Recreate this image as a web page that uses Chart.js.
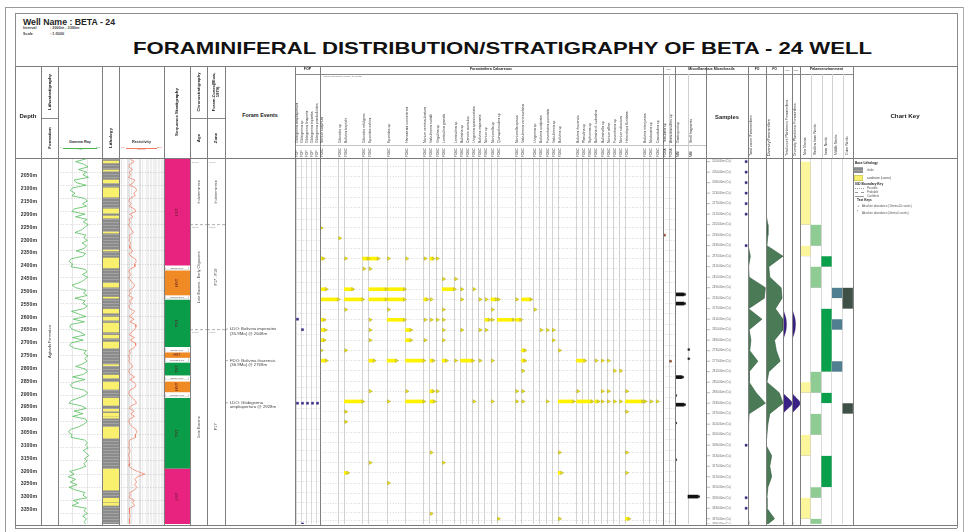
<!DOCTYPE html>
<html><head><meta charset="utf-8"><title>Foraminiferal distribution BETA-24</title>
<script src="https://cdn.jsdelivr.net/npm/chart.js@4.4.1/dist/chart.umd.min.js"></script>
<style>
html,body{margin:0;padding:0;background:#fff;}
#root{position:relative;width:968px;height:532px;overflow:hidden;background:#fff;font-family:"Liberation Sans",Arial,Helvetica,sans-serif;color:#222;}
#root canvas{position:absolute;}
</style></head><body><div id="root"></div>
<script>
// ================= DATA =================
const DEPTH_MIN = 2000;
const DEPTH_MAX = 3390;
const depthTicks = [2050,2100,2150,2200,2250,2300,2350,2400,2450,2500,2550,2600,2650,2700,2750,2800,2850,2900,2950,3000,3050,3100,3150,3200,3250,3300,3350];
const sampleDepths = [2010,2050,2090,2130,2170,2210,2250,2290,2330,2370,2410,2450,2490,2530,2570,2610,2650,2690,2730,2770,2810,2850,2890,2930,2970,3010,3050,3090,3130,3170,3210,3250,3290,3330,3370,3390];
const barrenSamples = [2010,2050,2090,2130,2170,2210,2330,3090,3290,3330];

// wireline logs sampled every 10 m from 2000 m
const logTop = 2000, logStep = 10;
const gammaRay = [
 95,60,88,102,70,98,85,104,55,62,
 96,50,42,58,47,90,100,84,97,55,
 48,92,60,99,86,103,91,80,58,95,
 88,100,82,97,90,62,94,85,45,38,
 50,44,92,99,83,101,90,76,48,60,
 96,87,99,58,93,84,100,88,46,70,
 95,52,90,44,40,52,78,92,50,86,
 45,40,55,97,88,102,91,99,85,60,
 94,100,87,50,92,55,42,48,89,101,
 93,70,45,38,80,96,55,85,50,94,
 99,88,70,42,36,48,44,90,100,94,
 103,86,97,105,91,99,88,95,72,40,
 55,35,60,42,65,38,58,92,85,98,
 52,70,48,96,89,100,84,97,90,93];
const resistivity = [
 2.0,4.5,1.8,1.5,3.2,1.6,2.2,1.4,5.0,3.8,
 1.7,6.0,7.5,4.2,5.5,1.9,1.5,2.4,1.6,4.8,
 6.2,1.8,3.5,1.5,2.1,1.4,1.9,2.6,3.9,1.6,
 2.0,1.5,2.3,1.7,1.9,3.6,1.6,2.2,5.5,7.0,
 4.6,5.2,1.8,1.5,2.4,1.4,1.9,2.8,5.1,3.8,
 1.6,2.1,1.5,3.7,1.7,2.2,1.5,1.9,4.9,3.0,
 1.6,4.4,1.8,5.8,6.4,4.7,2.5,1.7,4.6,2.0,
 5.3,6.1,4.0,1.6,2.0,1.4,1.8,1.5,2.1,3.5,
 1.7,1.5,2.0,4.9,1.8,4.3,6.5,5.2,1.9,1.5,
 1.8,3.0,5.6,7.2,2.4,1.6,4.5,2.2,4.9,1.7,
 1.5,1.9,3.1,6.4,7.8,5.5,5.9,1.8,1.5,1.7,
 1.4,2.0,1.6,1.4,1.8,1.5,1.9,1.6,2.8,9.0,
 40,8.5,5.2,7.4,4.8,7.9,5.0,1.8,2.0,1.6,
 4.6,3.2,5.0,1.7,1.9,1.6,2.0,1.7,1.8,1.7];

const sandIntervals = [[2008,2015],[2042,2046],[2080,2091],[2110,2145],[2190,2206],[2217,2225],[2278,2282],[2347,2350],[2377,2415],[2473,2488],[2526,2530],[2572,2587],[2602,2614],[2625,2659],[2671,2682],[2697,2720],[2783,2787],[2823,2834],[2850,2877],[2911,2938],[2953,2960],[2968,2980],[2983,2987],[3021,3063],[3181,3261],[3292,3307],[3311,3319]];
const formations = [['Agbada Formation',2000,3390]];
const seqBlocks = [[2000,2404,'LST'],[2426,2518,'HST'],[2537,2715,'TST'],[2738,2756,'HST'],[2777,2823,'TST'],[2849,2887,'HST'],[2911,3178,'TST'],[3181,3390,'LST']];
const seqSurfaces = [[2410,2423,'SB(33.9Ma)'],[2521,2534,'MFS(34.3Ma)'],[2720,2736,'SB(35.4Ma)'],[2758,2774,'MFS(35.8Ma)'],[2829,2842,'SB(36.4Ma)'],[2893,2907,'MFS(36.9Ma)']];
const ageUnits = [['Indeterminate',2000,2250],['Late Eocene - Early Oligocene',2250,2650],['Late Eocene',2650,3390]];
const zoneUnits = [['Indeterminate',2000,2250],['P17 - P19',2250,2650],['P17',2650,3390]];
const stratBoundaries = [2250,2650];
const foramEvents = [['LDO: Bolivina imperatrix','(35.9Ma) @ 2648m',2648],['FDO: Bolivina ihuzensis','(36.9Ma) @ 2768m',2768],['LDO: Globigerina','ampliapertura @ 2928m',2928]];

const fopSpecies = ['Globigerina ampliapertura','Globigerina sp','Globigerina linaperta','Globigerina tripartita','Globigerina praebulloides'];
const fopRecords = [[0,2610,1],[1,2650,1],[0,2930,1],[1,2930,1],[2,2930,1],[3,2930,1],[4,2930,1],[1,3390,1]];
const calcSpecies = ['Nonion scaphum','','','Cibicides sp','Bolivina beyrichi','','','Cibicides refulgens','Eponides eshira','','','Eponides sp','','','Hanzawaia concentrica','','','Nonion centrosulcatum','Valvulineria nuttalli','Virgulina sp','Lenticulina grandis','','Lenticulina sp','Bulimina sp','Cancris auriculus','Uvigerina sparsicostata','Bolivina imperatrix','Nonion sp','Nonionella sp','Quinqueloculina sp','','','Nonionella spissa','Valvulineria venezuelana','','Uvigerina sp','Bolivina scalprata','Fursenkoina punctata','Valvulineria sp','Bolivina sp','','','Bolivina ihuzensis','Planulina sp','Siphonina sp','Bulimina cf. subcalva','Buliminella sp','Nonion affine','Fursenkoina sp','Nonion robustum','Heterolepa floridana','','','Bolivina interjuncta','Nodosaria sp','Cassidulina sp'];
// [species column, sample depth, count]
const calcRecords = [
 [0,2250,1],[3,2290,1],
 [0,2370,2],[4,2370,1],[7,2370,4],[8,2370,8],[11,2370,1],[14,2370,1],[17,2370,1],[18,2370,2],[19,2370,1],
 [7,2410,1],[8,2410,1],
 [20,2450,1],[22,2450,1],
 [0,2490,5],[4,2490,7],[8,2490,16],[11,2490,16],[20,2490,11],[23,2490,1],[25,2490,1],
 [0,2530,17],[4,2530,17],[8,2530,16],[11,2530,16],[17,2530,2],[18,2530,1],[23,2530,1],[26,2530,1],[27,2530,1],[28,2530,4],[29,2530,1],[32,2530,1],[33,2530,8],
 [4,2570,1],[11,2570,1],[20,2570,1],[28,2570,1],[35,2570,1],
 [0,2610,3],[8,2610,1],[11,2610,16],[17,2610,1],[18,2610,1],[19,2610,1],[20,2610,1],[27,2610,3],[28,2610,1],[29,2610,15],[32,2610,4],
 [0,2650,4],[8,2650,1],[14,2650,4],[20,2650,1],[23,2650,1],[26,2650,1],[27,2650,1],[36,2650,1],[37,2650,1],[38,2650,1],
 [0,2690,3],[8,2690,1],[14,2690,4],[17,2690,1],[20,2690,1],[38,2690,1],
 [0,2730,1],[4,2730,1],[33,2730,2],[39,2730,1],
 [0,2770,5],[8,2770,4],[11,2770,8],[14,2770,17],[18,2770,2],[20,2770,3],[22,2770,1],[23,2770,11],[26,2770,1],[28,2770,1],[33,2770,2],[42,2770,7],[45,2770,1],[46,2770,1],[47,2770,1],
 [33,2810,1],[48,2810,1],[49,2810,1],
 [8,2890,1],[14,2890,1],[18,2890,2],[19,2890,1],[32,2890,1],[33,2890,1],[42,2890,1],[46,2890,1],[47,2890,1],[50,2890,1],
 [4,2930,17],[11,2930,1],[14,2930,17],[18,2930,3],[25,2930,1],[28,2930,1],[32,2930,1],[33,2930,1],[37,2930,1],[39,2930,14],[42,2930,14],[45,2930,2],[46,2930,1],[47,2930,1],[48,2930,1],[49,2930,1],[50,2930,16],[53,2930,1],[54,2930,1],[55,2930,1],
 [4,2970,1],[50,2970,1],[4,3010,1],
 [18,3130,1],[39,3130,1],[50,3130,1],
 [8,3170,1],[20,3170,1],
 [4,3210,2],[39,3210,2],[50,3210,1],
 [11,3250,1],[18,3370,1],
 [29,3390,1],[39,3390,1],[50,3390,2]];
const foaSpecies = ['Textularia sp','Ammobaculites sp'];
const foaRecords = [[0,2290,1],[1,2770,1]];
const miscSpecies = ['Gastropod sp','Shell fragments'];
const miscRecords = [[0,2490,9],[0,2530,9],[1,2730,1],[1,2770,1],[0,2850,7],[0,2930,1],[0,2970,9],[0,3050,1],[0,3210,1],[1,3370,10]];

// per sample (sampleDepths order)
const totalCount =          [0,0,0,0,0,0,1,1,0,4,1,2,30,28,1,24,2,5,3,17,2,2,14,30,2,1,1,0,1,1,1,1,0,0,1,2];
const diversity =           [0,0,0,0,0,0,2,2,1,18,3,4,16,17,10,18,18,9,11,15,3,1,14,18,4,2,1,0,6,4,6,2,1,1,9,2];
const planktonicCount =     [0,0,0,0,0,0,0,0,0,0,0,0,0,0,0,3,3,0,0,0,0,0,0,9,0,0,0,0,0,0,0,0,0,0,0,1];
const planktonicDiversity = [0,0,0,0,0,0,0,0,0,0,0,0,0,0,0,3,3,0,0,0,0,0,0,8,0,0,0,0,0,0,0,0,0,0,0,1];

const paleoEnvs = ['Non Marine','Shallow Inner Neritic','Inner Neritic','Middle Neritic','Outer Neritic'];
const paleoIntervals = [[0,2010,2250],[1,2250,2330],[0,2330,2370],[2,2370,2410],[1,2410,2490],[3,2490,2530],[4,2490,2570],[2,2570,2810],[3,2610,2650],[3,2770,2810],[1,2810,2890],[0,2850,2890],[2,2890,2930],[4,2930,2970],[1,2970,3050],[0,3050,3130],[2,3130,3250],[1,3250,3290],[0,3290,3370],[1,3370,3390]];

// ================= STYLE / LAYOUT =================
const paleoColors = ['#fbf59c','#8fcc93','#0aa04b','#4f7f90','#3f5046'];
const seqColors = {LST:'#e8237f', HST:'#f08a24', TST:'#0a9c48'};
const root = document.getElementById('root');
const TOP = 159, BOT = 524, H = BOT - TOP;
const SLOT = 6.11;
const FONT = '"Liberation Sans", Arial, sans-serif';
Chart.defaults.font.family = FONT;
Chart.defaults.animation = false;

function canvasAt(left, width){
  const c = document.createElement('canvas');
  c.width = width; c.height = H;
  c.style.left = left+'px'; c.style.top = TOP+'px';
  c.style.width = width+'px'; c.style.height = H+'px';
  root.appendChild(c); return c;
}
function base(extra){
  return Object.assign({responsive:false, maintainAspectRatio:false, animation:false, events:[],
    layout:{padding:0, autoPadding:false},
    plugins:{legend:{display:false}, tooltip:{enabled:false}}}, extra||{});
}
function yScale(gridVals, color, dash){
  const s = {type:'linear', min:DEPTH_MIN, max:DEPTH_MAX, reverse:true, display:true,
    ticks:{display:false}, grid:{display:false, drawTicks:false}, border:{display:false}};
  if (gridVals){
    s.afterBuildTicks = sc => { sc.ticks = gridVals.map(v => ({value:v})); };
    s.grid = {display:true, drawTicks:false, color:color||'#bdbdbd', lineWidth:0.7};
    s.border = {display:false, dash:dash||[1,1.6]};
  }
  return s;
}
function xScale(min, max, gridVals, color, lw, type){
  const s = {type:type||'linear', min, max, display:true,
    ticks:{display:false}, grid:{display:false, drawTicks:false}, border:{display:false}};
  if (gridVals){
    s.afterBuildTicks = sc => { sc.ticks = gridVals.map(v => ({value:v})); };
    s.grid = {display:true, drawTicks:false, color:color||'#d6d6d6', lineWidth:lw||1};
  }
  return s;
}
// text drawn at depth positions through the chart's scales
function textLayer(items){
  return {id:'textLayer', afterDatasetsDraw(chart){
    const ctx = chart.ctx, ys = chart.scales.y, xs = chart.scales.x, ca = chart.chartArea;
    items.forEach(it => {
      const py = ys.getPixelForValue(it.depth);
      const px = it.xv != null ? xs.getPixelForValue(it.xv) : ca.left + (ca.right-ca.left)*(it.xf != null ? it.xf : 0.5);
      ctx.save();
      ctx.font = (it.weight||'normal')+' '+(it.size||4)+'px '+FONT;
      ctx.fillStyle = it.color||'#333';
      ctx.textAlign = it.align||'center'; ctx.textBaseline = 'middle';
      ctx.translate(px+(it.dx||0), py+(it.dy||0));
      if (it.rot) ctx.rotate(it.rot);
      ctx.fillText(it.text, 0, 0);
      ctx.restore();
    });
  }};
}
function bgLayer(fn){ return {id:'bgLayer', beforeDraw(chart){ fn(chart); }}; }
const mid = (a,b) => (a+b)/2;
const sampleGrid = sampleDepths.slice(0,-1).map((d,i) => mid(d, sampleDepths[i+1]));

// ================= CHARTS =================
// Depth axis
new Chart(canvasAt(15,26), {type:'scatter', data:{datasets:[]}, options:base({scales:{
  x:{display:false, min:0, max:1},
  y:{type:'linear', min:DEPTH_MIN, max:DEPTH_MAX, reverse:true, position:'left',
     afterBuildTicks:s => { s.ticks = depthTicks.map(v => ({value:v})); },
     afterFit:s => { s.width = 23; },
     ticks:{display:true, autoSkip:false, padding:1, color:'#333', font:{size:5.2, weight:'bold'}, callback:v => v+'m'},
     grid:{display:false, drawTicks:false}, border:{display:false}}}})});

// Formation
new Chart(canvasAt(41,17), {type:'scatter', data:{datasets:[]},
  options:base({scales:{x:xScale(0,1), y:yScale()}}),
  plugins:[textLayer(formations.map(f => ({text:f[0], depth:mid(f[1],f[2]), rot:-Math.PI/2, size:4, color:'#333'})))]});

// Gamma ray
new Chart(canvasAt(58,44), {type:'line', data:{datasets:[{
    data:gammaRay.map((v,i) => ({x:v, y:logTop+i*logStep})),
    borderColor:'#3fb548', borderWidth:0.7, pointRadius:0, fill:false, tension:0}]},
  options:base({indexAxis:'y', scales:{x:xScale(0,150,[50,100],'#e0e0e0',0.8), y:yScale(depthTicks)}})});

// Lithology
const pc = document.createElement('canvas'); pc.width = 4; pc.height = 3;
const pg = pc.getContext('2d'); pg.fillStyle = '#8b8b8b'; pg.fillRect(0,0,4,3); pg.fillStyle = '#a3a3a3'; pg.fillRect(0,0,4,1);
const shalePattern = pg.createPattern(pc, 'repeat');
new Chart(canvasAt(102,17), {type:'bar', data:{labels:['L'], datasets:[
    {data:[{x:'L', y:[DEPTH_MIN, DEPTH_MAX]}], backgroundColor:shalePattern, order:2, barPercentage:1, categoryPercentage:1, grouped:false},
    {data:sandIntervals.map(s => ({x:'L', y:s})), backgroundColor:'#f9f06e', order:1, barPercentage:1, categoryPercentage:1, grouped:false}]},
  options:base({scales:{x:{type:'category', display:false}, y:yScale()}})});

// Resistivity
new Chart(canvasAt(119,45), {type:'line', data:{datasets:[{
    data:resistivity.map((v,i) => ({x:v, y:logTop+i*logStep})),
    borderColor:'#ef7a60', borderWidth:0.7, pointRadius:0, fill:false, tension:0}]},
  options:base({indexAxis:'y', scales:{
    x:xScale(0.2,2000,[0.3,0.4,0.5,0.6,0.7,0.8,0.9,1,2,3,4,5,6,7,8,9,10,20,30,40,50,100,200,500,1000],'#ffffff',0.8,'logarithmic'),
    y:yScale(depthTicks)}}),
  plugins:[bgLayer(ch => {
    const c = ch.ctx, x = ch.scales.x, a = ch.chartArea;
    c.save();
    c.fillStyle = '#e4e4e4'; c.fillRect(x.getPixelForValue(0.2), a.top, x.getPixelForValue(20)-x.getPixelForValue(0.2), a.bottom-a.top);
    c.fillStyle = '#efefef'; c.fillRect(x.getPixelForValue(20), a.top, x.getPixelForValue(2000)-x.getPixelForValue(20), a.bottom-a.top);
    c.restore();
  })]});

// Sequence stratigraphy
new Chart(canvasAt(164,26), {type:'bar', data:{labels:['S'], datasets:[
    {data:seqSurfaces.map(s => ({x:'S', y:[s[0],s[1]]})), backgroundColor:'#ffffff', borderColor:'#9a9a9a', borderWidth:0.6, order:1, barPercentage:0.9, categoryPercentage:1, grouped:false},
    {data:seqBlocks.map(b => ({x:'S', y:[b[0],b[1]]})), backgroundColor:seqBlocks.map(b => seqColors[b[2]]), order:2, barPercentage:1, categoryPercentage:1, grouped:false}]},
  options:base({scales:{x:{type:'category', display:false}, y:yScale()}}),
  plugins:[textLayer([
    ...seqBlocks.map(b => ({text:b[2], depth:mid(b[0],b[1]), rot:(b[1]-b[0] > 30 ? -Math.PI/2 : 0), size:(b[1]-b[0] > 30 ? 4.2 : 3.4), color:'#5a1a2a'})),
    ...seqSurfaces.map(s => ({text:s[2], depth:mid(s[0],s[1]), size:2.4, color:'#555'}))])]});

// Age / Zone / Events
function boundaryLines(depths, x1){
  return depths.map(d => ({type:'line', data:[{x:0,y:d},{x:x1,y:d}], borderColor:'#9a9a9a', borderWidth:0.8, borderDash:[3,2], pointRadius:0, fill:false}));
}
new Chart(canvasAt(190,17), {type:'scatter', data:{datasets:boundaryLines(stratBoundaries,1)},
  options:base({scales:{x:xScale(0,1), y:yScale()}}),
  plugins:[textLayer([
    ...ageUnits.map(u => ({text:u[0], depth:mid(u[1],u[2]), rot:-Math.PI/2, size:3.8, color:'#444'})),
    ...ageUnits.map(u => ({text:u[1]+'m', depth:u[1], xf:0.12, align:'left', dy:3, size:2.2, color:'#999'}))])]});
new Chart(canvasAt(207,18), {type:'scatter', data:{datasets:boundaryLines(stratBoundaries,1)},
  options:base({scales:{x:xScale(0,1), y:yScale()}}),
  plugins:[textLayer([
    ...zoneUnits.map(u => ({text:u[0], depth:mid(u[1],u[2]), rot:-Math.PI/2, size:3.8, color:'#444'})),
    ...zoneUnits.map(u => ({text:u[1]+'m', depth:u[1], xf:0.12, align:'left', dy:3, size:2.2, color:'#999'}))])]});
new Chart(canvasAt(225,70), {type:'scatter', data:{datasets:boundaryLines(foramEvents.map(e => e[2]),0.08)},
  options:base({scales:{x:xScale(0,1), y:yScale()}}),
  plugins:[textLayer([
    ...foramEvents.map(e => ({text:e[0], depth:e[2], xf:0.07, align:'left', dy:0, size:4.3, color:'#444'})),
    ...foramEvents.map(e => ({text:e[1], depth:e[2], xf:0.07, align:'left', dy:4.2, size:4.3, color:'#444'}))])]});

// Planktonic (FOP)
const fopChart = new Chart(canvasAt(295,25), {type:'scatter', data:{datasets:[{
    data:fopRecords.map(r => ({x:r[0]+0.3, y:r[1]})),
    pointStyle:'rect', pointRadius:1.5, pointBackgroundColor:'#3b2a8f', pointBorderColor:'#2a1c6e', pointBorderWidth:0.4, clip:false}]},
  options:base({scales:{x:xScale(-0.2,4.8,fopSpecies.map((s,i) => i),'#dadada',1), y:yScale(sampleGrid,'#c8c8c8')}})});

// Calcareous benthics
const calcSlots = calcSpecies.map((s,i) => s ? i : null).filter(v => v !== null);
const calcChart = new Chart(canvasAt(320,343), {type:'scatter', data:{datasets:[
    {type:'bar', indexAxis:'y', order:2, grouped:false, barThickness:3, clip:false,
     data:calcRecords.filter(r => r[2] > 1).map(r => ({y:r[1], x:[r[0], r[0]+r[2]/SLOT]})),
     backgroundColor:'#fff200', borderWidth:0},
    {type:'scatter', order:1, clip:false,
     data:calcRecords.map(r => ({x:r[0]+(r[2] > 1 ? r[2]/SLOT : 0)+0.22, y:r[1]})),
     pointStyle:'triangle', pointRotation:90, pointRadius:2, pointBackgroundColor:'#f3e600', pointBorderColor:'#a8a020', pointBorderWidth:0.5}]},
  options:base({scales:{x:xScale(0,343/SLOT,calcSlots,'#d2d2d2',1), y:yScale(sampleGrid,'#c8c8c8')}})});

// Agglutinated (FOA)
const foaChart = new Chart(canvasAt(663,12), {type:'scatter', data:{datasets:[{
    data:foaRecords.map(r => ({x:r[0]+0.25, y:r[1]})),
    pointStyle:'rect', pointRadius:1.4, pointBackgroundColor:'#a0522d', pointBorderColor:'#6b3318', pointBorderWidth:0.4, clip:false}]},
  options:base({scales:{x:xScale(0,2,[1],'#d2d2d2',1), y:yScale(sampleGrid,'#c8c8c8')}})});

// Miscellaneous microfossils
const MISC_PX = 13;
const miscChart = new Chart(canvasAt(675,31), {type:'scatter', data:{datasets:[
    {type:'bar', indexAxis:'y', order:2, grouped:false, barThickness:3, clip:false,
     data:miscRecords.filter(r => r[2] > 1).map(r => ({y:r[1], x:[r[0], r[0]+r[2]/MISC_PX]})),
     backgroundColor:'#111', borderWidth:0},
    {type:'scatter', order:1, clip:false,
     data:miscRecords.map(r => ({x:r[0]+(r[2] > 1 ? r[2]/MISC_PX : 0)+0.06, y:r[1]})),
     pointStyle:'rect', pointRadius:1.4, pointBackgroundColor:'#111', pointBorderColor:'#444', pointBorderWidth:0.3}]},
  options:base({scales:{x:xScale(0,31/MISC_PX,[1],'#d2d2d2',1), y:yScale()}})});

// Samples
new Chart(canvasAt(706,42), {type:'scatter', data:{datasets:[
    {data:sampleDepths.map(d => ({x:0.05, y:d})), pointStyle:'line', pointRadius:2, pointBorderColor:'#888', pointBorderWidth:0.6, clip:false},
    {data:barrenSamples.map(d => ({x:0.955, y:d})), pointStyle:'rect', pointRadius:1.5, pointBackgroundColor:'#3b2a8f', pointBorderColor:'#2a1c6e', pointBorderWidth:0.4, clip:false}]},
  options:base({scales:{x:xScale(0,1), y:yScale()}}),
  plugins:[textLayer(sampleDepths.map(d => ({text:d.toFixed(2)+'m (Cs)', depth:d, xf:0.15, align:'left', size:2.8, color:'#666'})))]});

// Area curves
function areaChart(left, width, values, max, fillColor, lineColor, tension){
  return new Chart(canvasAt(left,width), {type:'line', data:{datasets:[{
      data:sampleDepths.map((d,i) => ({x:values[i], y:d})),
      fill:'origin', backgroundColor:fillColor, borderColor:lineColor, borderWidth:0.6, pointRadius:0, tension:tension}]},
    options:base({indexAxis:'y', scales:{x:xScale(0,max), y:yScale()}})});
}
areaChart(748,18,totalCount,31,'#4a7a56','#2f5a3b',0);
areaChart(766,17,diversity,18,'#4a7a56','#2f5a3b',0);
areaChart(783,9,planktonicCount,9,'#3a1f86','#2a156a',0.3);
areaChart(792,8,planktonicDiversity,8,'#3a1f86','#2a156a',0.3);

// Palaeoenvironment
new Chart(canvasAt(800,53), {type:'bar', data:{labels:paleoEnvs, datasets:[{
    data:paleoIntervals.map(p => ({x:paleoEnvs[p[0]], y:[p[1],p[2]]})),
    backgroundColor:paleoIntervals.map(p => paleoColors[p[0]]), borderColor:'#c9c9c9', borderWidth:0.5,
    barPercentage:1, categoryPercentage:1, grouped:false}]},
  options:base({scales:{x:{type:'category', display:true, offset:true, ticks:{display:false},
      grid:{display:true, offset:true, drawTicks:false, color:'#d0d0d0', lineWidth:0.8}, border:{display:false}},
    y:yScale()}})});

// ================= HTML FRAME & HEADER =================
function el(text, css){ const d = document.createElement('div'); d.textContent = text; d.style.cssText = 'position:absolute;white-space:nowrap;line-height:1;'+css; root.appendChild(d); return d; }
function txt(s, x, y, size, o){ o = o||{}; const tx = o.align === 'left' ? '0' : o.align === 'right' ? '-100%' : '-50%';
  return el(s, `left:${x}px;top:${y}px;font-size:${size}px;font-weight:${o.bold?'bold':'normal'};color:${o.color||'#222'};transform:translate(${tx},-50%);`); }
function rtxt(s, x, yb, size, o){ o = o||{};
  return el(s, `left:${x}px;top:${yb}px;font-size:${size}px;font-weight:${o.bold?'bold':'normal'};color:${o.color||'#333'};transform-origin:0 0;transform:rotate(-90deg) translateY(-50%);`); }
function rctxt(s, x, yc, size, o){ o = o||{};
  const d = el('', `left:${x}px;top:${yc}px;font-size:${size}px;font-weight:${o.bold?'bold':'normal'};color:${o.color||'#222'};text-align:center;transform:translate(-50%,-50%) rotate(-90deg);`);
  s.split('\n').forEach((line,i) => { if (i) d.appendChild(document.createElement('br')); d.appendChild(document.createTextNode(line)); });
  return d; }
function vline(x, y1, y2, color, w){ w = w||1; el('', `left:${x-w/2}px;top:${y1}px;width:${w}px;height:${y2-y1}px;background:${color||'#808080'};`); }
function hline(y, x1, x2, color, w){ w = w||1; el('', `left:${x1}px;top:${y-w/2}px;width:${x2-x1}px;height:${w}px;background:${color||'#808080'};`); }
function hdash(y, x1, x2, color, dash){ el('', `left:${x1}px;top:${y}px;width:${x2-x1}px;height:0;border-top:0.8px ${dash} ${color};`); }

// frames
hline(7,5,963,'#9a9a9a'); vline(5,7,532,'#9a9a9a'); vline(963,7,532,'#b0b0b0');
hline(13,15,957,'#8c8c8c'); vline(15,13,528,'#8c8c8c'); vline(957,13,528,'#8c8c8c'); hline(528,15,957,'#8c8c8c');
// header texts
const wn = txt('Well Name : BETA - 24', 23, 22, 8.6, {bold:true, align:'left', color:'#222'});
txt('Interval', 23, 29, 3.8, {bold:true, align:'left', color:'#444'}); txt(': 2000m - 3390m', 50, 29, 3.8, {bold:true, align:'left', color:'#444'});
txt('Scale', 23, 35, 3.8, {bold:true, align:'left', color:'#444'}); txt(': 1:5000', 50, 35, 3.8, {bold:true, align:'left', color:'#444'});
const title = txt('FORAMINIFERAL DISTRIBUTION/STRATIGRAPHY OF BETA - 24 WELL', 133, 47.5, 16.5, {bold:true, align:'left', color:'#111'});
function fitWidth(e, w){ const r = e.getBoundingClientRect().width; e.style.transformOrigin = '0 50%'; e.style.transform = `translate(0,-50%) scaleX(${w/r})`; }
fitWidth(title, 739); fitWidth(wn, 92);

// table lines
const colX = [15,41,58,102,119,164,190,207,225,295,320,663,675,706,748,766,783,792,800,853,957];
hline(66,15,957,'#7a7a7a'); hline(158.5,15,957,'#7a7a7a'); hline(525,15,957,'#7a7a7a');
hline(74,295,853,'#8a8a8a');
hline(118,41,58,'#8a8a8a'); hline(118,190,225,'#8a8a8a');
hline(145.5,295,706,'#c4c4c4',0.7);
colX.forEach(x => vline(x,66,525,'#7f7f7f'));
[811,822,832,843].forEach(x => vline(x,74,158,'#d0d0d0',0.7));
vline(688,74,158,'#d0d0d0',0.7); vline(669,74,158,'#d0d0d0',0.7);

txt('Depth', 28, 116, 6, {bold:true});
rctxt('Lithostratigraphy', 49.5, 92, 4.4, {bold:true});
rctxt('Formation', 49.5, 138, 4.4, {bold:true});
txt('Gamma Ray', 80, 143, 3.8, {bold:true, color:'#333'});
hline(148,63,97,'#45b649',0.6);
txt('0', 60, 148, 2.4, {align:'left', color:'#3a9a40'}); txt('(API)', 80, 148.5, 2.2, {color:'#3a9a40'}); txt('150', 100, 148, 2.4, {align:'right', color:'#3a9a40'});
rctxt('Lithology', 110.5, 138, 4.4, {bold:true});
txt('Resistivity', 141.5, 143, 3.8, {bold:true, color:'#333'});
hline(148,126,157,'#ef7a60',0.6);
txt('0.2', 121, 148, 2.4, {align:'left', color:'#d0604a'}); txt('(ohm.m)', 141.5, 148.5, 2.2, {color:'#d0604a'}); txt('2000', 162, 148, 2.4, {align:'right', color:'#d0604a'});
rctxt('Sequence Stratigraphy', 177, 112, 4.4, {bold:true});
rctxt('Chronostratigraphy', 198.5, 92, 4.2, {bold:true});
rctxt('Age', 198.5, 138, 4.4, {bold:true});
rctxt('Foram Zones(Blow,\n1979)', 216, 92, 4.2, {bold:true});
rctxt('Zone', 216, 138, 4.4, {bold:true});
txt('Foram Events', 260, 116, 5.4, {bold:true});
txt('FOP', 307.5, 70, 3.6, {bold:true});
txt('Foraminifera Calcareous', 491, 70, 3.6, {bold:true});
txt('Absolute abundance (10mm=10 counts)', 323, 76, 2.2, {align:'left', color:'#666'});
txt('FOA', 669, 70, 2.4, {color:'#555'});
txt('Miscellaneous Microfossils', 711.5, 70, 3.6, {bold:true});
txt('Samples', 727, 118, 5.8, {bold:true});
txt('FO', 757, 70, 3.4, {bold:true}); txt('FO', 774.5, 70, 3.4, {bold:true});
txt('FOP', 787.5, 70, 2.2, {color:'#555'}); txt('FOP', 796, 70, 2.2, {color:'#555'});
txt('Palaeoenvironment', 826.5, 70, 3.6, {bold:true});
txt('Chart Key', 905, 116, 6.2, {bold:true});

// species header labels positioned from the chart scales
function speciesHeaders(chart, left, names, prefix, dx){
  names.forEach((n,i) => { if (!n) return;
    const x = left + chart.scales.x.getPixelForValue(i) + dx;
    rtxt(n, x, 143, 3.5, {color:'#333'}); rtxt(prefix, x, 156.5, 3.2, {color:'#333'}); });
}
speciesHeaders(fopChart, 295, fopSpecies, 'FOP', 2.2);
speciesHeaders(calcChart, 320, calcSpecies, 'FOBC', 2.5);
speciesHeaders(foaChart, 663, foaSpecies, 'FOBA', 2.5);
speciesHeaders(miscChart, 675, miscSpecies, 'MM', 3.5);
rtxt('Total count Foraminifera', 752, 156, 3.8, {color:'#333'});
rtxt('Diversity Foraminifera', 770, 156, 3.8, {color:'#333'});
rtxt('Total count Planktonic Foraminifera', 787.5, 156, 3.6, {color:'#333'});
rtxt('Diversity Planktonic Foraminifera', 796, 156, 3.6, {color:'#333'});
paleoEnvs.forEach((n,i) => rtxt(n, 805.5 + i*10.5, 155, 3.4, {color:'#333'}));

// chart key
txt('Base Lithology', 855, 164, 3.2, {bold:true, align:'left'});
el('', 'left:854px;top:167px;width:9px;height:6px;background:repeating-linear-gradient(#a3a3a3 0 1px,#8b8b8b 1px 3px);');
txt('shale', 867, 170, 2.8, {align:'left', color:'#444'});
el('', 'left:854px;top:175px;width:9px;height:6px;background:#f9f06e;border:0.5px solid #d8d060;box-sizing:border-box;');
txt('sandstone (coarse)', 867, 178, 2.8, {align:'left', color:'#444'});
txt('IGD Boundary Key', 855, 185, 3.2, {bold:true, align:'left'});
hdash(188,855,864,'#999','dotted'); txt('Possible', 867, 188.3, 2.8, {align:'left', color:'#555'});
hdash(192,855,864,'#999','dashed'); txt('Probable', 867, 192.3, 2.8, {align:'left', color:'#555'});
hdash(196,855,864,'#999','solid'); txt('Confident', 867, 196.3, 2.8, {align:'left', color:'#555'});
txt('Text Keys', 857, 201, 3.2, {bold:true, align:'left'});
txt('⊥', 857, 206, 3, {align:'left', color:'#555'}); txt('Absolute abundance  (10mm=10 counts)', 862, 206, 2.8, {align:'left', color:'#555'});
txt('*', 857, 213, 3.4, {align:'left', color:'#555'}); txt('Absolute abundance  (0mm=0 counts)', 862, 213, 2.8, {align:'left', color:'#555'});
</script></body></html>
